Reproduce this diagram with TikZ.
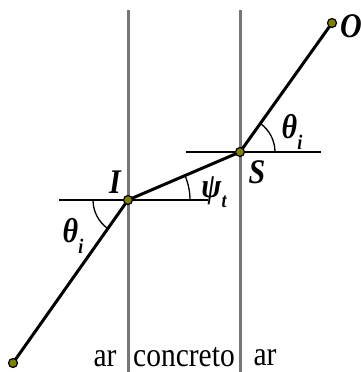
\documentclass[tikz,border=0pt]{standalone}
\usepackage{fontspec}
\setmainfont{Liberation Serif}
\definecolor{dotfill}{HTML}{808000}
\definecolor{wallgray}{HTML}{767676}
\begin{document}
\begin{tikzpicture}[x=1pt,y=1pt,
  ray/.style={line width=3pt,black},
  wall/.style={line width=3pt,wallgray},
  hline/.style={line width=1.3pt,black},
  anglearc/.style={line width=1.3pt,black},
  pdot/.style={circle,draw=black,line width=1.2pt,fill=dotfill,inner sep=0pt,minimum size=9pt},
  lbl/.style={inner sep=0pt,font=\fontsize{29.5}{32}\selectfont},
  sym/.style={inner sep=0pt,font=\fontsize{30}{33}\selectfont\bfseries\itshape}]
\useasboundingbox (0,0) rectangle (361,372);
% walls
\coordinate (w1t) at (128,362); \coordinate (w1b) at (128,0);
\coordinate (w2t) at (240,362); \coordinate (w2b) at (240,0);
\draw[wall] (w1t) -- (w1b);
\draw[wall] (w2t) -- (w2b);
% points
\coordinate (A) at (13,9);
\coordinate (I) at (128,172);
\coordinate (S) at (240,220);
\coordinate (O) at (332,349);
% horizontal reference lines
\coordinate (hIl) at (59,172); \coordinate (hIr) at (208,172);
\coordinate (hSl) at (186,220); \coordinate (hSr) at (321,220);
\draw[hline] (hIl) -- (hIr);
\draw[hline] (hSl) -- (hSr);
% arcs
\draw[anglearc] (I) ++(180:35) arc[start angle=180,end angle=234.8,radius=35];
\draw[anglearc] (I) ++(0:62) arc[start angle=0,end angle=23.2,radius=62];
\draw[anglearc] (S) ++(0:35) arc[start angle=0,end angle=54.5,radius=35];
% ray
\draw[ray] (A) -- (I) -- (S) -- (O);
\node[pdot] (dA) at (A) {};
\node[pdot] (dI) at (I) {};
\node[pdot] (dS) at (S) {};
\node[pdot] (dO) at (O) {};
% labels
\node[sym] (lI) at (115,190) {\scalebox{1}[1.15]{I}};
\node[sym] (lS) at (257,200) {\scalebox{1}[1.15]{S}};
\node[sym,anchor=west] (lO) at (340,346) {\scalebox{1}[1.15]{O}};
\node[sym] (t1) at (73,136) {\scalebox{1}[1.15]{θ\raisebox{-0.3em}{\fontsize{18}{20}\selectfont i}}};
\node[sym] (p1) at (214,180) {\scalebox{1}[1.15]{ψ\raisebox{-0.3em}{\fontsize{18}{20}\selectfont t}}};
\node[sym] (t2) at (292,240) {\scalebox{1}[1.15]{θ\raisebox{-0.3em}{\fontsize{18}{20}\selectfont i}}};
\node[lbl,anchor=base] (ar1) at (105,5) {\scalebox{1}[1.15]{ar}};
\node[lbl,anchor=base] (conc) at (184,5) {\scalebox{1}[1.15]{concreto}};
\node[lbl,anchor=base] (ar2) at (265,6) {\scalebox{1}[1.15]{ar}};
\end{tikzpicture}
\end{document}
